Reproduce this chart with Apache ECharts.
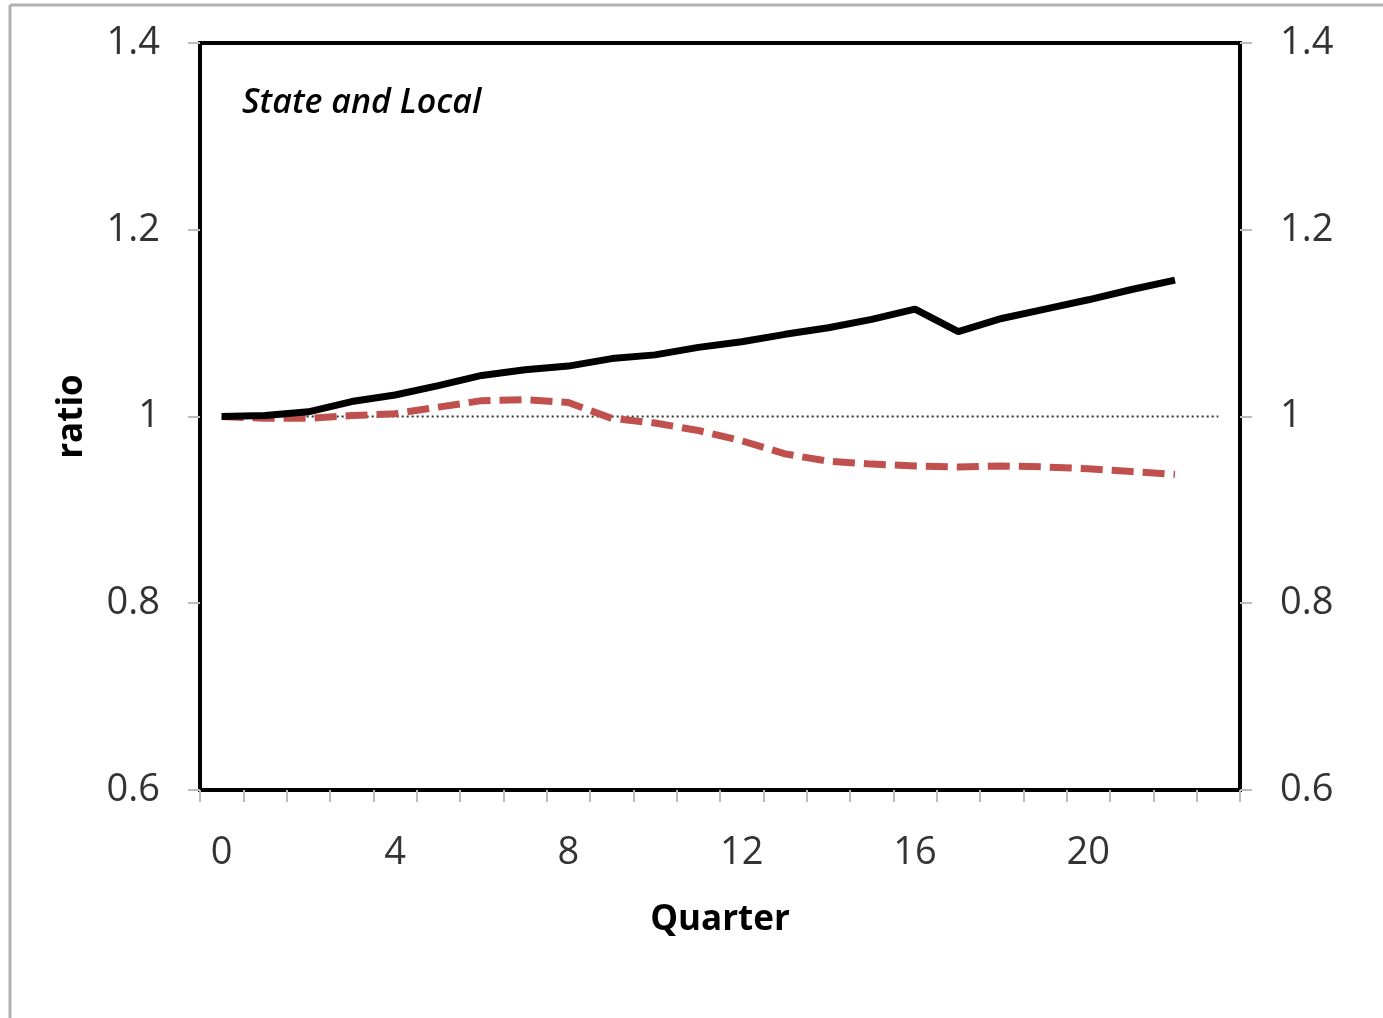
<!DOCTYPE html>
<html><head><meta charset="utf-8">
<script src="https://cdn.jsdelivr.net/npm/echarts@6/dist/echarts.min.js"></script>
<style>html,body{margin:0;padding:0;background:#fff;}#c{width:1383px;height:1018px;}</style>
</head><body><div id="c"></div>
<script>
const quarters = ['0','1','2','3','4','5','6','7','8','9','10','11','12','13','14','15','16','17','18','19','20','21','22','23'];
const blackSeries = [1.000,1.001,1.005,1.016,1.023,1.033,1.044,1.050,1.054,1.062,1.066,1.074,1.080,1.088,1.095,1.104,1.115,1.091,1.105,1.115,1.125,1.136,1.146];
const redSeries = [1.000,0.998,0.998,1.001,1.003,1.010,1.017,1.018,1.015,0.998,0.993,0.985,0.974,0.960,0.952,0.949,0.947,0.946,0.947,0.946,0.944,0.941,0.938];
const baseline = [1,1,1,1,1,1,1,1,1,1,1,1,1,1,1,1,1,1,1,1,1,1,1,1];
const FONT = "'Open Sans',sans-serif";
const chart = echarts.init(document.getElementById('c'));
const yLab = v => (v===1?'1':v.toFixed(1));
chart.setOption({
  animation:false,
  backgroundColor:'#fff',
  grid:{left:200,top:43,width:1040,height:747,show:true,borderColor:'#000',borderWidth:4,containLabel:false},
  graphic:[
    {type:'line',shape:{x1:10,y1:5,x2:10,y2:1018},style:{stroke:'#b0b0b0',lineWidth:3}},
    {type:'line',shape:{x1:10,y1:5,x2:1383,y2:5},style:{stroke:'#b0b0b0',lineWidth:3}},
    {type:'text',left:242,top:86,style:{text:'State and Local',font:"italic 600 34px "+FONT,fill:'#000'}}
  ],
  xAxis:{type:'category',data:quarters,boundaryGap:true,
    name:'Quarter',nameLocation:'middle',nameGap:113,
    nameTextStyle:{fontFamily:FONT,fontSize:35,fontWeight:'bold',color:'#000'},
    axisLine:{show:false},
    axisTick:{show:true,alignWithLabel:false,interval:0,length:12,lineStyle:{color:'#bbb',width:2}},
    axisLabel:{interval:(i)=>i%4===0,margin:44,fontFamily:FONT,fontSize:38,color:'#333'},
    splitLine:{show:false}},
  yAxis:[
    {type:'value',min:0.6,max:1.4,interval:0.2,position:'left',
     name:'ratio',nameLocation:'middle',nameGap:110,nameRotate:90,
     nameTextStyle:{fontFamily:FONT,fontSize:35,fontWeight:'bold',color:'#000'},
     axisLine:{show:false},axisTick:{show:true,length:12,lineStyle:{color:'#bbb',width:2}},
     axisLabel:{margin:40,fontFamily:FONT,fontSize:38,color:'#333',formatter:yLab},
     splitLine:{show:false}},
    {type:'value',min:0.6,max:1.4,interval:0.2,position:'right',
     axisLine:{show:false},axisTick:{show:true,length:12,lineStyle:{color:'#bbb',width:2}},
     axisLabel:{margin:40,fontFamily:FONT,fontSize:38,color:'#333',formatter:yLab},
     splitLine:{show:false}}
  ],
  series:[
    {type:'line',data:baseline,symbol:'none',lineStyle:{color:'#333',width:2,type:[2,3]},z:1},
    {type:'line',data:redSeries,symbol:'none',lineStyle:{color:'#C0504D',width:7,type:[22,9]},z:2},
    {type:'line',data:blackSeries,symbol:'none',lineStyle:{color:'#000',width:7},z:3}
  ]
});
</script></body></html>
